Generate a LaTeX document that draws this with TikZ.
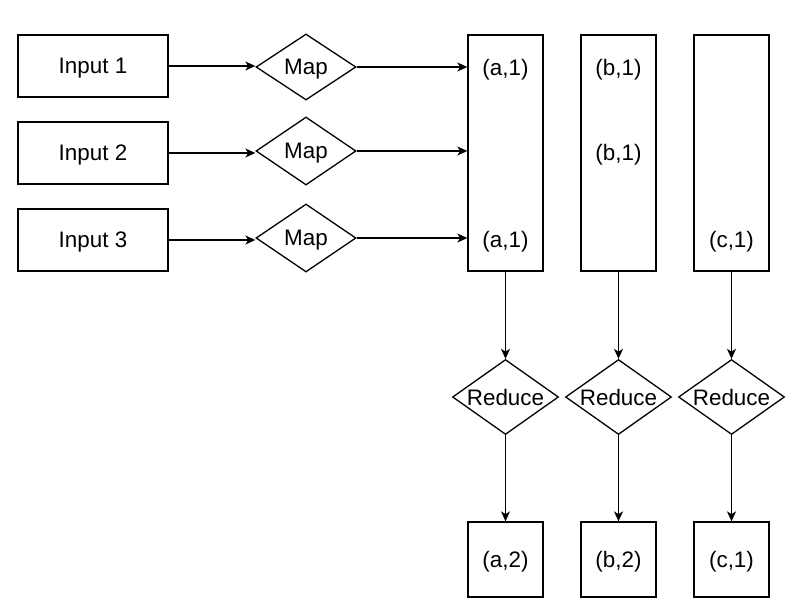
\documentclass[tikz,border=0pt]{standalone}
\usepackage{fontspec}
\setmainfont{Liberation Sans}
\usetikzlibrary{positioning,shapes.geometric,arrows.meta}
\tikzset{
    %Define standard arrow tip
    >={Stealth[length=5pt,width=4.5pt,inset=1.4pt]},
    %Define style for input boxes
    boks/.style={
           rectangle,
           draw=black, line width=0.65pt,
           minimum width=75pt,
           minimum height=31pt,
           inner sep=0pt},
    %Define style for key columns and results
    soyle/.style={
           rectangle,
           draw=black, line width=0.65pt,
           minimum width=37.5pt,
           inner sep=0pt},
    %Define style for map and reduce
    rute/.style={
           diamond, aspect=1.4,
           draw=black, line width=0.65pt,
           inner sep=0pt},
    % Define arrow style
    pil/.style={
           ->,
           line width=0.65pt}
}

\begin{document}
\begin{tikzpicture}[x=0.5pt,y=-0.5pt,font=\fontsize{11.2}{13}\selectfont,
    every node/.append style={text depth=0pt}]
\useasboundingbox (0,0) rectangle (799,616);
% inputs and maps
\node [boks] (in1) at (93,66) {Input 1};
\node [boks] (in2) at (93,153) {Input 2};
\node [boks] (in3) at (93,240) {Input 3};
\node [rute,minimum width=50pt,minimum height=33pt] (map1) at (306,67) {Map};
\node [rute,minimum width=50pt,minimum height=34pt] (map2) at (306,151) {Map};
\node [rute,minimum width=50pt,minimum height=34pt] (map3) at (306,238) {Map};
% key columns
\node [soyle,minimum height=118pt] (ka) at (505.5,153) {};
\node [soyle,minimum height=118pt] (kb) at (618.5,153) {};
\node [soyle,minimum height=118pt] (kc) at (731.5,153) {};
\node (ka1) at (505.5,67) {(a,1)};
\node (ka3) at (505.5,239) {(a,1)};
\node (kb1) at (618.5,67) {(b,1)};
\node (kb2) at (618.5,152) {(b,1)};
\node (kc3) at (731.5,239) {(c,1)};
% reduce and results
\node [rute,minimum width=53pt,minimum height=37.5pt] (ra) at (505.5,397) {Reduce};
\node [rute,minimum width=53pt,minimum height=37.5pt] (rb) at (618.5,397) {Reduce};
\node [rute,minimum width=53pt,minimum height=37.5pt] (rc) at (731.5,397) {Reduce};
\node [soyle,minimum height=37.5pt] (ua) at (505.5,559.5) {(a,2)};
\node [soyle,minimum height=37.5pt] (ub) at (618.5,559.5) {(b,2)};
\node [soyle,minimum height=37.5pt] (uc) at (731.5,559.5) {(c,1)};
% connectors
\draw [pil] (in1.east) -- (in1 -| map1.west);
\draw [pil] (in2.east) -- (in2 -| map2.west);
\draw [pil] (in3.east) -- (in3 -| map3.west);
\draw [pil] (map1.east) -- (map1 -| ka.west);
\draw [pil] (map2.east) -- (map2 -| ka.west);
\draw [pil] (map3.east) -- (map3 -| ka.west);
\draw [pil] (ka.south) -- (ra.north);
\draw [pil] (kb.south) -- (rb.north);
\draw [pil] (kc.south) -- (rc.north);
\draw [pil] (ra.south) -- (ua.north);
\draw [pil] (rb.south) -- (ub.north);
\draw [pil] (rc.south) -- (uc.north);
\end{tikzpicture}
\end{document}
